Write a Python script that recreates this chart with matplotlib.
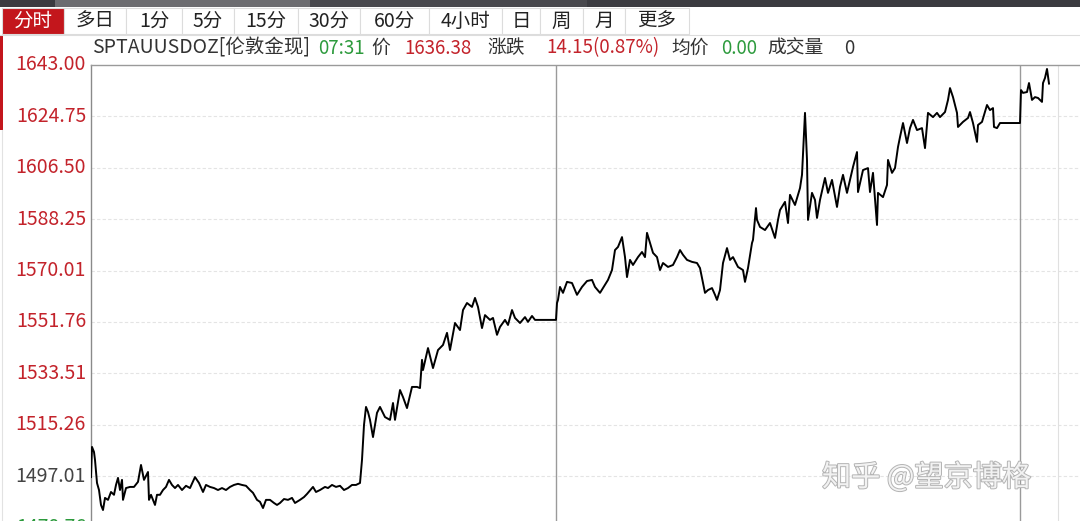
import matplotlib
matplotlib.use("Agg")
import matplotlib.pyplot as plt
import matplotlib.patheffects as pe
import matplotlib.transforms as mtransforms
from matplotlib.patches import Rectangle
from matplotlib.lines import Line2D

plt.rcParams["font.family"] = ["Noto Sans CJK SC", "DejaVu Sans"]

W, H = 1080, 521

# minute offsets from the left edge of the chart, and the spot price at each
MINUTES = [
    0, 1, 3, 4, 6, 8, 10, 12, 14, 17, 20, 23, 25, 27, 29, 31, 32, 35, 39, 43,
    47, 50, 53, 57, 58, 60, 64, 66, 69, 72, 75, 78, 81, 84, 87, 91, 95, 99, 104, 108,
    112, 115, 119, 123, 127, 131, 135, 139, 143, 147, 151, 155, 159, 162, 166, 169, 172, 175, 179, 183,
    186, 189, 193, 197, 201, 204, 209, 213, 216, 222, 225, 229, 234, 237, 241, 245, 249, 253, 257, 261,
    265, 269, 271, 273, 275, 277, 279, 282, 286, 289, 294, 299, 302, 304, 309, 312, 316, 321, 326, 329,
    331, 332, 337, 342, 347, 352, 356, 359, 364, 369, 372, 376, 381, 384, 387, 391, 394, 399, 402, 406,
    409, 414, 417, 421, 424, 429, 434, 437, 441, 444, 465, 466, 467, 469, 472, 476, 481, 486, 491, 496,
    501, 504, 509, 512, 517, 521, 524, 527, 531, 534, 536, 539, 542, 547, 551, 554, 556, 559, 562, 566,
    569, 572, 577, 582, 586, 589, 592, 596, 601, 606, 609, 612, 614, 617, 621, 624, 626, 629, 632, 636,
    639, 642, 647, 652, 654, 657, 661, 662, 665, 666, 669, 674, 679, 684, 687, 689, 694, 697, 699, 704,
    709, 711, 714, 716, 717, 721, 724, 726, 729, 734, 737, 741, 746, 749, 752, 756, 762, 766, 767, 772,
    777, 779, 782, 786, 787, 792, 796, 797, 801, 804, 807, 809, 812, 816, 819, 822, 826, 831, 834, 837,
    842, 846, 849, 854, 857, 859, 862, 866, 867, 872, 877, 879, 882, 886, 887, 891, 896, 899, 902, 903,
    906, 909, 929, 930, 932, 936, 938, 941, 944, 947, 951, 952, 954, 956, 958,
]
PRICES = [
    1496.7, 1507.4, 1505.6, 1502.8, 1494.6, 1492.1, 1486.8, 1485.0, 1489.3, 1488.6,
    1491.4, 1490.4, 1493.9, 1496.4, 1492.1, 1495.7, 1488.6, 1492.8, 1493.2, 1493.2,
    1495.0, 1501.0, 1495.7, 1498.5, 1488.6, 1490.4, 1486.8, 1490.4, 1490.4, 1492.1,
    1493.2, 1495.7, 1493.9, 1492.8, 1493.9, 1492.1, 1493.6, 1492.8, 1496.7, 1494.6,
    1491.4, 1493.9, 1493.2, 1492.8, 1492.1, 1492.8, 1492.1, 1493.2, 1493.9, 1494.3,
    1493.9, 1493.6, 1492.1, 1491.1, 1488.6, 1487.9, 1485.7, 1488.6, 1488.6, 1487.5,
    1486.8, 1487.5, 1488.9, 1488.6, 1489.3, 1487.5, 1488.6, 1489.6, 1490.7, 1493.2,
    1491.4, 1492.1, 1493.2, 1492.8, 1493.9, 1493.2, 1493.6, 1492.1, 1492.8, 1493.9,
    1493.9, 1494.6, 1502.8, 1515.2, 1521.6, 1519.8, 1517.0, 1510.9, 1519.5, 1521.6,
    1518.0, 1517.0, 1523.0, 1517.0, 1527.6, 1525.1, 1521.2, 1528.7, 1528.7, 1528.3,
    1538.3, 1534.7, 1542.5, 1535.4, 1541.8, 1543.6, 1547.9, 1541.8, 1551.4, 1548.9,
    1556.0, 1558.5, 1557.1, 1560.3, 1557.1, 1549.6, 1554.2, 1552.5, 1553.2, 1547.2,
    1550.0, 1552.5, 1550.7, 1556.0, 1553.2, 1551.4, 1553.5, 1551.8, 1553.9, 1552.5,
    1552.5, 1558.5, 1559.6, 1564.2, 1562.1, 1566.0, 1565.6, 1561.4, 1564.2, 1566.3,
    1566.7, 1564.2, 1562.1, 1563.8, 1566.7, 1570.2, 1577.3, 1578.4, 1581.9, 1574.8,
    1567.7, 1573.8, 1572.0, 1574.8, 1576.6, 1574.8, 1583.4, 1579.8, 1576.3, 1574.8,
    1570.2, 1572.7, 1571.3, 1572.0, 1574.8, 1577.3, 1575.6, 1573.8, 1573.1, 1572.7,
    1570.9, 1565.6, 1562.1, 1563.1, 1563.8, 1561.4, 1559.6, 1563.1, 1572.7, 1578.0,
    1573.8, 1574.8, 1571.3, 1570.2, 1566.0, 1570.9, 1579.8, 1580.9, 1592.2, 1588.0,
    1585.5, 1584.4, 1586.9, 1581.6, 1588.0, 1591.5, 1594.4, 1586.9, 1596.9, 1593.3,
    1599.3, 1604.0, 1626.0, 1609.3, 1588.0, 1597.6, 1595.1, 1588.7, 1595.1, 1602.9,
    1597.6, 1602.2, 1592.6, 1599.7, 1604.0, 1597.6, 1606.8, 1612.1, 1597.9, 1605.7,
    1606.4, 1597.9, 1604.7, 1586.2, 1597.6, 1596.1, 1600.4, 1609.3, 1604.7, 1606.4,
    1613.9, 1617.4, 1622.4, 1615.3, 1620.6, 1623.5, 1619.9, 1620.6, 1613.5, 1626.0,
    1624.5, 1626.0, 1624.5, 1626.3, 1630.6, 1634.8, 1631.6, 1626.0, 1621.0, 1622.8,
    1624.2, 1626.3, 1622.4, 1615.7, 1621.7, 1622.8, 1628.8, 1627.0, 1627.7, 1621.0,
    1620.6, 1622.4, 1622.4, 1634.1, 1633.1, 1633.4, 1636.6, 1630.6, 1631.6, 1631.3,
    1629.9, 1636.6, 1638.4, 1641.6, 1636.4,
]

Y_TICKS = [1643.00, 1624.75, 1606.50, 1588.25, 1570.01, 1551.76, 1533.51, 1515.26, 1497.01, 1478.76]
SESSION_BREAKS = [465, 929]
NEXT_BREAK = 967
X_SPAN = 989
Y_RANGE = (1481.1, 1643.0)

TABS = ["分时", "多日", "1分", "5分", "15分", "30分", "60分", "4小时", "日", "周", "月", "更多"]
TAB_EDGES = [2, 64, 126, 182, 234, 298, 360, 429, 502, 540, 583, 625, 689]

HEADER = [
    ("SPTAUUSDOZ[伦敦金现]", "#333333"), ("07:31", "#2c9a3c"), ("价", "#333333"),
    ("1636.38", "#c3232b"), ("涨跌", "#333333"), ("14.15(0.87%)", "#c3232b"),
    ("均价", "#333333"), ("0.00", "#2c9a3c"), ("成交量", "#333333"), ("0", "#333333"),
]
HEADER_X = [92, 318, 371, 404, 487, 546, 671, 721, 767, 844]

RED = "#c3232b"
GREEN = "#2c9a3c"


def fx(px):
    return px / W


def fy(py):
    return 1 - py / H


fig = plt.figure(figsize=(W / 100, H / 100), dpi=100)
fig.patch.set_facecolor("white")

# top window strip
fig.add_artist(Rectangle((0, fy(7)), 1, 7 / H, transform=fig.transFigure, color="#3b3b40", lw=0))
fig.add_artist(Rectangle((fx(55), fy(7)), fx(255), 7 / H, transform=fig.transFigure, color="#6c6c70", lw=0))
fig.add_artist(Rectangle((fx(310), fy(7)), fx(277), 7 / H, transform=fig.transFigure, color="#48484d", lw=0))

# tab bar
for i, label in enumerate(TABS):
    x0, x1 = TAB_EDGES[i], TAB_EDGES[i + 1]
    active = i == 0
    fig.add_artist(Rectangle((fx(x0), fy(34)), fx(x1 - x0), 26 / H, transform=fig.transFigure,
                             facecolor="#c3161c" if active else "white",
                             edgecolor="#dcdcdc", lw=0.8))
    fig.text(fx((x0 + x1) / 2), fy(21), label, ha="center", va="center", fontsize=14,
             color="white" if active else "#222222")
fig.add_artist(Line2D([0, 1], [fy(35), fy(35)], transform=fig.transFigure, color="#dddddd", lw=0.8))

# left edge marker
fig.add_artist(Rectangle((0, fy(130)), fx(3), 95 / H, transform=fig.transFigure, color="#c3161c", lw=0))
fig.add_artist(Line2D([fx(2), fx(2)], [fy(130), 0], transform=fig.transFigure, color="#e2e2e2", lw=0.8))

# header line
for (txt, col), x in zip(HEADER, HEADER_X):
    fig.text(fx(x), fy(48), txt, ha="left", va="center", fontsize=14 if x < 300 else 13.5, color=col)

ax = fig.add_axes([fx(91), 0, 1 - fx(91), fy(65)])
ax.set_xlim(0, X_SPAN)
ax.set_ylim(*Y_RANGE)

for t in Y_TICKS[1:]:
    ax.axhline(t, color="#e4e4e4", lw=0.8, ls=(0, (3, 2)), zorder=0)
for b in SESSION_BREAKS:
    ax.axvline(b, color="#9a9a9a", lw=1.0, zorder=1)
ax.axvline(NEXT_BREAK, color="#e0e0e0", lw=0.8, zorder=0)

ax.plot(MINUTES, PRICES, color="black", lw=1.4, zorder=3)

ax.set_xticks([])
ax.set_yticks([])
for s in ["right", "bottom"]:
    ax.spines[s].set_visible(False)
ax.spines["left"].set_color("#8a8a8a")
ax.spines["top"].set_color("#9a9a9a")
ax.spines["left"].set_linewidth(1.0)
ax.spines["top"].set_linewidth(1.0)

# price labels: red above the reference, grey at it, green below
label_tr = mtransforms.blended_transform_factory(
    mtransforms.offset_copy(ax.transAxes, fig=fig, x=-5, y=0, units="dots"), ax.transData)
for t in Y_TICKS:
    if t > 1500:
        col = RED
    elif t > 1490:
        col = "#444444"
    else:
        col = GREEN
    ax.text(0, t, f"{t:.2f}", transform=label_tr, ha="right", va="center",
            fontsize=14, color=col, clip_on=False)

# watermark
fig.text(fx(822), fy(478), "知乎 @望京博格", ha="left", va="center", fontsize=21, color="#f2f2f2",
         path_effects=[pe.withStroke(linewidth=1.4, foreground="#b4b4b4")])

fig.savefig("out.png", dpi=100)
